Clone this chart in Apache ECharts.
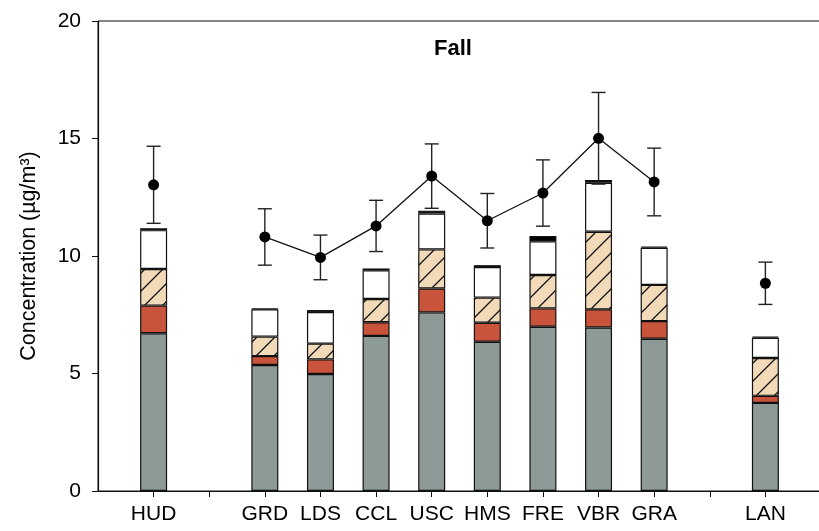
<!DOCTYPE html>
<html>
<head>
<meta charset="utf-8">
<title>Fall</title>
<script src="https://cdn.jsdelivr.net/npm/echarts@6/dist/echarts.min.js"></script>
<style>
  html, body { margin: 0; padding: 0; background: #fff; }
  #chart { width: 819px; height: 531px; }
</style>
</head>
<body>
<div id="chart"></div>
<script>
// Sampling sites, in the order they appear along the x axis
const sites = ['HUD', 'GRD', 'LDS', 'CCL', 'USC', 'HMS', 'FRE', 'VBR', 'GRA', 'LAN'];
// Axis slots: blank slots leave the gaps between site groups
const axisSlots = ['', 'HUD', '', 'GRD', 'LDS', 'CCL', 'USC', 'HMS', 'FRE', 'VBR', 'GRA', '', 'LAN', ''];

// Stacked component concentrations (µg/m³), bottom to top
const compGray  = [6.71, 5.36, 4.98, 6.60, 7.60, 6.35, 6.99, 6.96, 6.48, 3.75];
const compRed   = [1.18, 0.38, 0.62, 0.58, 1.02, 0.81, 0.78, 0.77, 0.75, 0.30];
const compHatch = [1.56, 0.83, 0.67, 0.99, 1.66, 1.07, 1.42, 3.30, 1.54, 1.61];
const compWhite = [1.65, 1.16, 1.35, 1.22, 1.53, 1.30, 1.44, 2.09, 1.58, 0.86];
const compBlack = [0.08, 0.04, 0.08, 0.08, 0.12, 0.08, 0.22, 0.11, 0.05, 0.05];

// Measured total mass: mean and standard deviation
const totalMean = [13.03, 10.81, 9.94, 11.28, 13.40, 11.50, 12.68, 15.01, 13.15, 8.84];
const totalSd   = [1.64, 1.20, 0.95, 1.09, 1.37, 1.16, 1.41, 1.95, 1.44, 0.90];

const yTicks = { min: 0, max: 20, interval: 5 };

// Spread a per-site array over the axis slots (null in the gaps)
function toSlots(arr) {
  return axisSlots.map(s => {
    const i = sites.indexOf(s);
    return (s === '' || i < 0) ? null : arr[i];
  });
}

// Diagonal hatch tile for the third component
function hatchTile() {
  const s = 18;
  const c = document.createElement('canvas');
  c.width = s; c.height = s;
  const ctx = c.getContext('2d');
  ctx.fillStyle = '#f2dab9';
  ctx.fillRect(0, 0, s, s);
  ctx.strokeStyle = '#111';
  ctx.lineWidth = 1.3;
  ctx.beginPath();
  ctx.moveTo(0, s); ctx.lineTo(s, 0);
  ctx.moveTo(-2, 2); ctx.lineTo(2, -2);
  ctx.moveTo(s - 2, s + 2); ctx.lineTo(s + 2, s - 2);
  ctx.stroke();
  return c;
}

const errData = [];
axisSlots.forEach((s, idx) => {
  const i = sites.indexOf(s);
  if (s !== '' && i >= 0) {
    errData.push([idx, totalMean[i] - totalSd[i], totalMean[i] + totalSd[i]]);
  }
});

const barBase = {
  type: 'bar',
  stack: 'mass',
  barWidth: 27,
  z: 2,
  silent: true
};
const edge = { borderColor: '#111', borderWidth: 1.2 };

const chart = echarts.init(document.getElementById('chart'), null, { renderer: 'canvas' });

chart.setOption({
  animation: false,
  backgroundColor: '#fff',
  title: {
    text: 'Fall',
    left: 448,
    top: 33,
    textAlign: 'center',
    textStyle: { fontFamily: 'Liberation Sans, Arial, sans-serif', fontSize: 22, fontWeight: 'bold', color: '#000' }
  },
  grid: {
    left: 98, right: -2, top: 21, bottom: 40,
    show: true, borderColor: '#111', borderWidth: 1,
    outerBoundsMode: 'none'
  },
  xAxis: {
    type: 'category',
    data: axisSlots,
    boundaryGap: false,
    axisLine: { lineStyle: { color: '#111', width: 1.2 } },
    axisTick: { length: 6, interval: (idx) => idx > 0 && idx < axisSlots.length - 1, lineStyle: { color: '#111' } },
    axisLabel: {
      interval: 0, margin: 13,
      fontFamily: 'Liberation Sans, Arial, sans-serif', fontSize: 21, color: '#000'
    },
    splitLine: { show: false }
  },
  yAxis: {
    type: 'value',
    min: yTicks.min, max: yTicks.max, interval: yTicks.interval,
    name: 'Concentration (µg/m³)',
    nameLocation: 'middle',
    nameGap: 58,
    nameTextStyle: { fontFamily: 'Liberation Sans, Arial, sans-serif', fontSize: 21.5, color: '#000' },
    axisLine: { show: true, lineStyle: { color: '#111', width: 1.2 } },
    axisTick: { show: true, length: 6, lineStyle: { color: '#111' } },
    axisLabel: { margin: 17, fontFamily: 'Liberation Sans, Arial, sans-serif', fontSize: 21, color: '#000' },
    splitLine: { show: false }
  },
  series: [
    Object.assign({}, barBase, { name: 'c1', data: toSlots(compGray),  itemStyle: Object.assign({ color: '#8e9a98' }, edge) }),
    Object.assign({}, barBase, { name: 'c2', data: toSlots(compRed),   itemStyle: Object.assign({ color: '#c8543c' }, edge) }),
    Object.assign({}, barBase, { name: 'c3', data: toSlots(compHatch), itemStyle: Object.assign({ color: { image: hatchTile(), repeat: 'repeat' } }, edge) }),
    Object.assign({}, barBase, { name: 'c4', data: toSlots(compWhite), itemStyle: Object.assign({ color: '#ffffff' }, edge) }),
    Object.assign({}, barBase, { name: 'c5', data: toSlots(compBlack), itemStyle: Object.assign({ color: '#000000' }, edge) }),
    {
      type: 'custom',
      name: 'sd',
      z: 3,
      silent: true,
      encode: { x: 0, y: [1, 2] },
      data: errData,
      renderItem: function (params, api) {
        const x = api.value(0);
        const lo = api.coord([x, api.value(1)]);
        const hi = api.coord([x, api.value(2)]);
        const half = 7;
        const st = { stroke: '#222', lineWidth: 1.4 };
        return {
          type: 'group',
          children: [
            { type: 'line', shape: { x1: lo[0], y1: lo[1], x2: hi[0], y2: hi[1] }, style: st },
            { type: 'line', shape: { x1: lo[0] - half, y1: lo[1], x2: lo[0] + half, y2: lo[1] }, style: st },
            { type: 'line', shape: { x1: hi[0] - half, y1: hi[1], x2: hi[0] + half, y2: hi[1] }, style: st }
          ]
        };
      }
    },
    {
      type: 'line',
      name: 'total',
      z: 4,
      silent: true,
      data: toSlots(totalMean),
      connectNulls: false,
      symbol: 'circle',
      symbolSize: 11,
      showAllSymbol: true,
      itemStyle: { color: '#000' },
      lineStyle: { color: '#111', width: 1.3 }
    }
  ]
});
</script>
</body>
</html>
